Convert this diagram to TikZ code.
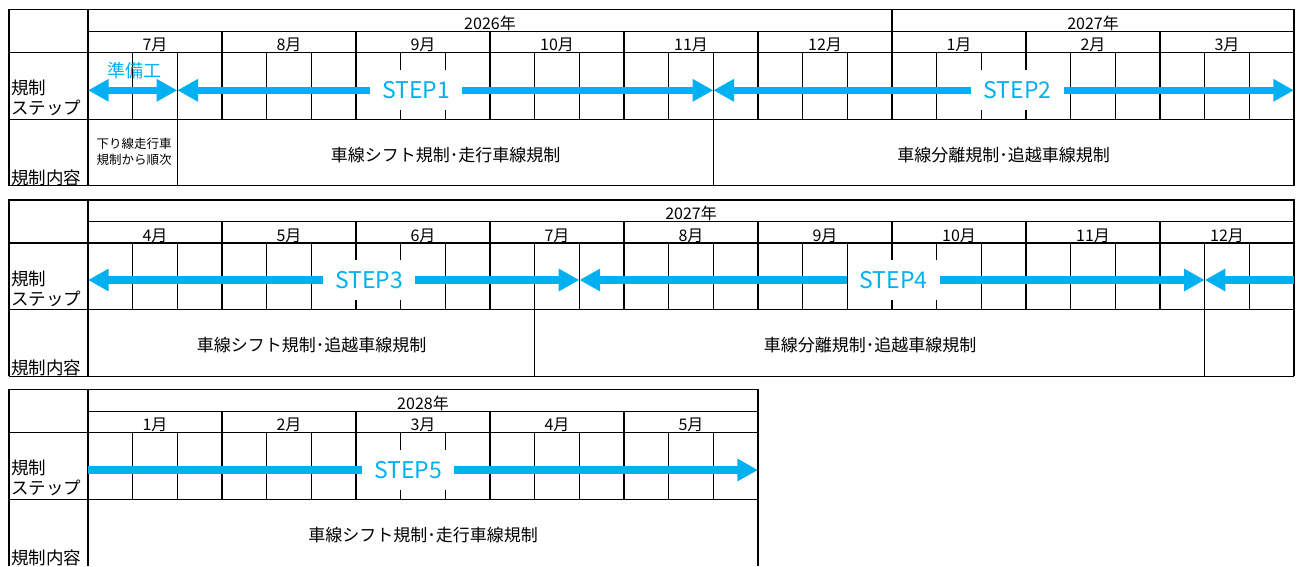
\documentclass[tikz,border=0pt]{standalone}
\usepackage{fontspec}
\setmainfont{Noto Sans CJK JP}
\definecolor{stepblue}{HTML}{00B0F0}
\usepackage{tikz}
\usetikzlibrary{arrows.meta, positioning, calc}
\newcommand{\panelgrid}[2]
{
	\pgfmathsetmacro{\rightx}{88+134*#1}
	\pgfmathtruncatemacro{\nm}{#1-1}
	\draw[gridline] (9,#2) -- (9,0) -- (\rightx,0) -- (\rightx,#2);
	\draw[gridline] (88,0) -- (88,#2);
	\draw[gridline] (88,21.7) -- (\rightx,21.7);
	\draw[gridline] (9,43) -- (\rightx,43);
	\draw[gridline] (9,109.7) -- (\rightx,109.7);
	\foreach \m in {1,...,\nm}
		\draw[gridline] ({88+134*\m},21.7) -- ({88+134*\m},109.7);
	\foreach \m in {0,...,\nm}
		\foreach \k in {1,2}
			\draw[gridline] ({88+134*\m+44.667*\k},43) -- ({88+134*\m+44.667*\k},109.7);
}
\newcommand{\rowheads}[1]
{
	\node[rowhead] (#11) at (11,78.5) {規制};
	\node[rowhead] (#12) at (11,98.5) {ステップ};
	\node[rowhead] (#13) at (11,168) {規制内容};
}

\begin{document}
\begin{tikzpicture}[x=1pt, y=-1pt,
	gridline/.style={draw=black, line width=1.3pt},
	thinline/.style={draw=black, line width=0.9pt},
	jp/.style={inner sep=0pt, font=\fontsize{16}{16}\selectfont},
	rowhead/.style={jp, anchor=west, font=\fontsize{17.5}{17.5}\selectfont},
	content/.style={jp, font=\fontsize{17}{17}\selectfont},
	steplabel/.style={fill=white, text=stepblue, inner sep=0pt, minimum width=92pt, minimum height=40pt, font=\fontsize{23}{23}\selectfont},
	steparrow/.style={draw=stepblue, line width=7.3pt},
	>={Triangle[length=20.7pt, width=21.3pt]}]
	\useasboundingbox (0,0) rectangle (1297,566);
	\begin{scope}[shift={(0,9.5)}]
		\panelgrid{9}{176.3}
		\draw[gridline] (9,176.3) -- (1294,176.3);
		\draw[gridline] (892,0) -- (892,21.7);
		\draw[thinline] (177.3,109.7) -- (177.3,176.3);
		\draw[thinline] (713.3,109.7) -- (713.3,176.3);
		\rowheads{hA}
		\node[jp] (yA1) at (490,14) {2026年};
		\node[jp] (yA2) at (1093,14) {2027年};
		\foreach \lab [count=\i] in {7,8,9,10,11,12,1,2,3}
			\node[jp] (mA\i) at ({21+134*\i},35.5) {\lab 月};
		\node[jp, align=center, font=\fontsize{12.5}{16.5}\selectfont] (cA0) at (134,142.2) {下り線走行車\\規制から順次};
		\node[content] (cA1) at (445.5,146) {車線シフト規制･走行車線規制};
		\node[content] (cA2) at (1003.5,146) {車線分離規制･追越車線規制};
		\coordinate (pA0) at (88,80.8);
		\coordinate (pA1) at (177.3,80.8);
		\coordinate (pA2) at (713.3,80.8);
		\coordinate (pA3) at (1294,80.8);
		\node[jp, text=stepblue, font=\fontsize{18}{18}\selectfont] (prep) at (134.5,61) {準備工};
		\node[steplabel] (step1) at (416,80.8) {STEP1};
		\node[steplabel] (step2) at (1017.5,80.8) {STEP2};
		\draw[steparrow, <->] (pA0) -- (pA1);
		\draw[steparrow, <-] (pA1) -- (step1);
		\draw[steparrow, ->] (step1) -- (pA2);
		\draw[steparrow, <-] (pA2) -- (step2);
		\draw[steparrow, ->] (step2) -- (pA3);
	\end{scope}
	\begin{scope}[shift={(0,200)}]
		\panelgrid{9}{176.3}
		\draw[gridline] (9,176.3) -- (1294,176.3);
		\draw[thinline] (534.7,109.7) -- (534.7,176.3);
		\draw[thinline] (1204.7,109.7) -- (1204.7,176.3);
		\rowheads{hB}
		\node[jp] (yB1) at (691,13) {2027年};
		\foreach \lab [count=\i] in {4,5,6,7,8,9,10,11,12}
			\node[jp] (mB\i) at ({21+134*\i},35.5) {\lab 月};
		\node[content] (cB1) at (311.5,145) {車線シフト規制･追越車線規制};
		\node[content] (cB2) at (870,145) {車線分離規制･追越車線規制};
		\coordinate (pB0) at (88,80);
		\coordinate (pB1) at (579.4,80);
		\coordinate (pB2) at (1204.7,80);
		\coordinate (pB3) at (1294,80);
		\node[steplabel] (step3) at (369,80) {STEP3};
		\node[steplabel] (step4) at (893.5,80) {STEP4};
		\draw[steparrow, <-] (pB0) -- (step3);
		\draw[steparrow, ->] (step3) -- (pB1);
		\draw[steparrow, <-] (pB1) -- (step4);
		\draw[steparrow, ->] (step4) -- (pB2);
		\draw[steparrow, <-] (pB2) -- (pB3);
	\end{scope}
	\begin{scope}[shift={(0,389.7)}]
		\panelgrid{5}{176.3}
		\rowheads{hC}
		\node[jp] (yC1) at (423,13.5) {2028年};
		\foreach \lab [count=\i] in {1,2,3,4,5}
			\node[jp] (mC\i) at ({21+134*\i},35.5) {\lab 月};
		\node[content] (cC1) at (423,145.5) {車線シフト規制･走行車線規制};
		\coordinate (pC0) at (88,80.3);
		\coordinate (pC1) at (758,80.3);
		\node[steplabel] (step5) at (408,80.3) {STEP5};
		\draw[steparrow] (pC0) -- (step5);
		\draw[steparrow, ->] (step5) -- (pC1);
	\end{scope}
\end{tikzpicture}
\end{document}
